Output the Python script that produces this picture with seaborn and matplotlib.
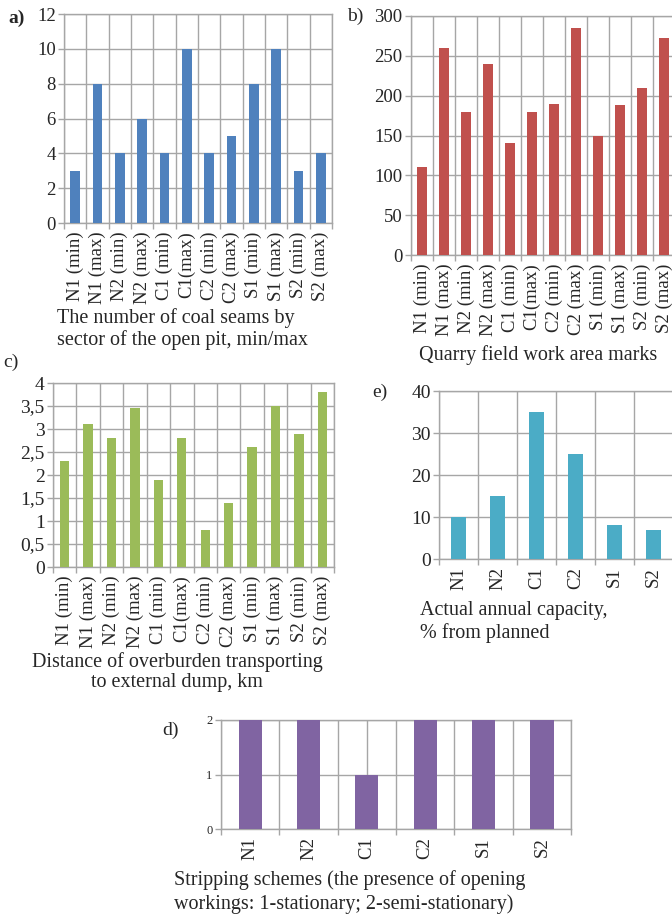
import matplotlib
matplotlib.use("Agg")
import matplotlib.pyplot as plt
import seaborn as sns
import numpy as np

sns.set_style("white")
plt.rcParams['font.family'] = ['Liberation Serif', 'DejaVu Serif']

# data
cats12 = ["N1 (min)", "N1 (max)", "N2 (min)", "N2 (max)", "C1 (min)", "C1(max)",
          "C2 (min)", "C2 (max)", "S1 (min)", "S1 (max)", "S2 (min)", "S2 (max)"]
cats6 = ["N1", "N2", "C1", "C2", "S1", "S2"]

seams = [3, 8, 4, 6, 4, 10, 4, 5, 8, 10, 3, 4]
marks = [110, 260, 180, 240, 140, 180, 190, 285, 150, 188, 210, 272]
distance = [2.3, 3.1, 2.8, 3.45, 1.9, 2.8, 0.8, 1.4, 2.6, 3.5, 2.9, 3.8]
capacity = [10, 15, 35, 25, 8, 7]
schemes = [2, 2, 1, 2, 2, 2]

W, H = 672, 916
fig = plt.figure(figsize=(W / 100, H / 100), dpi=100)
GRID = "#a6a6a6"


def box(l, r, t, b):
    return [l / W, 1 - b / H, (r - l) / W, (b - t) / H]


def panel(rect, cats, vals, color, yticks, ylabels=None, width=0.42,
          ysize=13.5, xsize=13.5, center_grid=False):
    ax = fig.add_axes(rect)
    sns.barplot(x=cats, y=vals, color=color, saturation=1, width=width, ax=ax,
                linewidth=0, zorder=3)
    n = len(cats)
    ax.set_xlim(-0.5, n - 0.5)
    ax.set_ylim(yticks[0], yticks[-1])
    ax.set_yticks(yticks)
    if ylabels is not None:
        ax.set_yticklabels(ylabels)
    ax.set_xticks(np.arange(n))
    ax.set_xticklabels(cats, rotation=90, fontsize=xsize)
    ax.set_xticks(np.arange(n + 1) - 0.5, minor=True)
    ax.tick_params(axis="y", labelsize=ysize, length=4, width=1, color=GRID,
                   pad=2, left=True)
    ax.tick_params(axis="x", which="major", length=0, pad=6)
    ax.tick_params(axis="x", which="minor", length=4, width=1, color=GRID,
                   bottom=True)
    ax.grid(False)
    ax.yaxis.grid(True, color=GRID, lw=1)
    ax.xaxis.grid(True, which="minor", color=GRID, lw=1)
    if center_grid:
        ax.xaxis.grid(True, which="major", color=GRID, lw=1)
    ax.set_axisbelow(True)
    for s in ax.spines.values():
        s.set_color(GRID)
        s.set_linewidth(1)
    ax.set_xlabel("")
    ax.set_ylabel("")
    return ax


# a)
panel(box(64, 332, 14, 223), cats12, seams, "#4F81BD", [0, 2, 4, 6, 8, 10, 12])
# b)
panel(box(411, 675, 16, 255), cats12, marks, "#C0504D",
      [0, 50, 100, 150, 200, 250, 300])
# c)
cticks = [0, 0.5, 1, 1.5, 2, 2.5, 3, 3.5, 4]
panel(box(53, 334, 383, 567), cats12, distance, "#9BBB59", cticks,
      ylabels=[("%g" % v).replace(".", ",") for v in cticks], width=0.4, ysize=14)
# e)
panel(box(439, 673, 391, 559), cats6, capacity, "#4BACC6", [0, 10, 20, 30, 40],
      width=0.41, ysize=14)
# d)
panel(box(221, 571, 720, 829), cats6, schemes, "#8064A2", [0, 1, 2],
      width=0.4, ysize=9, center_grid=True)


def txt(x, y, s, ha="left", size=14.5, **kw):
    fig.text(x / W, 1 - y / H, s, ha=ha, va="center", fontsize=size, **kw)


txt(8, 18, "a)", size=14, weight="bold")
txt(347, 16, "b)", size=14)
txt(3, 362, "c)", size=14)
txt(372, 392, "e)", size=14)
txt(162, 730, "d)", size=14)

txt(57, 318, "The number of coal seams by")
txt(57, 340, "sector of the open pit, min/max")
txt(538, 355, "Quarry field work area marks", ha="center")
txt(177, 662, "Distance of overburden transporting", ha="center")
txt(177, 683, "to external dump, km", ha="center")
txt(420, 611, "Actual annual capacity,")
txt(420, 633, "% from planned")
txt(174, 880, "Stripping schemes (the presence of opening")
txt(174, 904, "workings: 1-stationary; 2-semi-stationary)")

fig.savefig("out.png", dpi=100)
